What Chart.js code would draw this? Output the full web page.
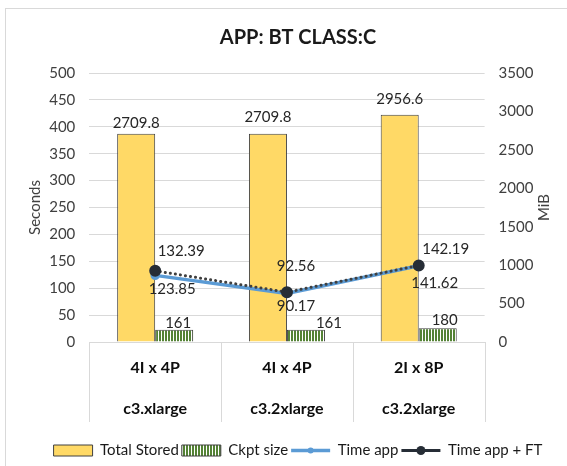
<!DOCTYPE html>
<html lang="en">
<head>
<meta charset="UTF-8" />
<title>APP: BT CLASS:C</title>
<script src="https://cdn.jsdelivr.net/npm/chart.js"></script>
<style>
  html, body { margin: 0; padding: 0; background: #fff; overflow: hidden; }
  .frame { position: absolute; left: 5px; top: 8px; width: 700px; height: 600px; border: 1px solid #d9d9d9; }
  .wrap { position: absolute; left: 0; top: 0; width: 576px; height: 466px; }
</style>
</head>
<body>
<div class="frame"></div>
<div class="wrap"><canvas id="chart" width="576" height="466"></canvas></div>
<script>
  // data
  const categories = [['4I x 4P', 'c3.xlarge'], ['4I x 4P', 'c3.2xlarge'], ['2I x 8P', 'c3.2xlarge']];
  const totalStored = [2709.8, 2709.8, 2956.6];
  const ckptSize = [161, 161, 180];
  const timeApp = [123.85, 90.17, 141.62];
  const timeAppFT = [132.39, 92.56, 142.19];
  const secondsTicks = [0, 50, 100, 150, 200, 250, 300, 350, 400, 450, 500];
  const mibTicks = [0, 500, 1000, 1500, 2000, 2500, 3000, 3500];

  // where each value label sits relative to its mark (dx, dy)
  const labelOffsets = [
    [[0, -11], [0, -17], [0, -16]],
    [[4, -6], [23, -6], [7, -8]],
    [[17, 14], [9, 13], [16, 17]],
    [[26, -20], [9, -26], [27, -16]]
  ];

  const FONT = 'Lato, sans-serif';
  Chart.defaults.font.family = FONT;

  function stripes(ctx) {
    const c = document.createElement('canvas');
    c.width = 3; c.height = 4;
    const g = c.getContext('2d');
    g.fillStyle = '#ffffff';
    g.fillRect(0, 0, 3, 4);
    g.fillStyle = '#548235';
    g.fillRect(0, 0, 2, 4);
    return ctx.createPattern(c, 'repeat');
  }

  const valueLabels = {
    id: 'valueLabels',
    afterDatasetsDraw(chart) {
      const ctx = chart.ctx;
      ctx.save();
      ctx.font = '15px ' + FONT;
      ctx.fillStyle = '#262626';
      ctx.textAlign = 'center';
      ctx.textBaseline = 'middle';
      chart.data.datasets.forEach((ds, i) => {
        chart.getDatasetMeta(i).data.forEach((el, j) => {
          const [dx, dy] = labelOffsets[i][j];
          ctx.fillText(String(ds.data[j]), el.x + dx, el.y + dy);
        });
      });
      ctx.restore();
    }
  };

  const extras = {
    id: 'extras',
    afterDraw(chart) {
      const ctx = chart.ctx;
      // category separators under the plot
      const x = chart.scales.x;
      const half = (x.getPixelForValue(1) - x.getPixelForValue(0)) / 2;
      ctx.save();
      ctx.strokeStyle = '#d9d9d9';
      ctx.lineWidth = 1;
      for (let i = 0; i <= categories.length; i++) {
        const px = Math.round(x.getPixelForValue(0) - half + i * half * 2) + 0.5;
        ctx.beginPath();
        ctx.moveTo(px, x.top);
        ctx.lineTo(px, x.top + 80);
        ctx.stroke();
      }
      ctx.restore();
      // dots on the line swatches of the legend
      const legend = chart.legend;
      legend.legendItems.forEach((item, k) => {
        const ds = chart.data.datasets[item.datasetIndex];
        if (ds.type !== 'line') return;
        const box = legend.legendHitBoxes[k];
        ctx.beginPath();
        ctx.arc(box.left + 39 / 2, box.top + box.height / 2, ds.pointRadius, 0, Math.PI * 2);
        ctx.fillStyle = ds.pointBackgroundColor;
        ctx.fill();
      });
      // secondary axis title, read bottom to top like the primary one
      const s = chart.scales.y1;
      ctx.save();
      ctx.translate(s.left + 59.4, (s.top + s.bottom) / 2);
      ctx.rotate(-Math.PI / 2);
      ctx.font = '15px ' + FONT;
      ctx.fillStyle = '#404040';
      ctx.textAlign = 'center';
      ctx.textBaseline = 'middle';
      ctx.fillText('MiB', 0, 0);
      ctx.restore();
    }
  };

  const ctx = document.getElementById('chart').getContext('2d');

  new Chart(ctx, {
    type: 'bar',
    data: {
      labels: categories,
      datasets: [
        {
          type: 'bar', label: 'Total Stored', data: totalStored, yAxisID: 'y1', order: 2,
          backgroundColor: '#FFD966', borderColor: '#404040', borderWidth: 1,
          categoryPercentage: 0.577, barPercentage: 1
        },
        {
          type: 'bar', label: 'Ckpt size', data: ckptSize, yAxisID: 'y1', order: 2,
          backgroundColor: stripes(ctx), borderColor: '#404040', borderWidth: 1,
          categoryPercentage: 0.577, barPercentage: 1
        },
        {
          type: 'line', label: 'Time app', data: timeApp, yAxisID: 'y', order: 1,
          borderColor: '#5B9BD5', borderWidth: 3.5, fill: false, tension: 0,
          pointRadius: 3, pointBackgroundColor: '#5B9BD5', pointBorderColor: '#5B9BD5'
        },
        {
          type: 'line', label: 'Time app + FT', data: timeAppFT, yAxisID: 'y', order: 0,
          borderColor: '#404040', borderWidth: 3, borderDash: [0.1, 5], borderCapStyle: 'round',
          fill: false, tension: 0,
          pointRadius: 4.5, pointBackgroundColor: '#262d36', pointBorderColor: '#262d36'
        }
      ]
    },
    options: {
      responsive: false,
      animation: false,
      layout: { padding: { left: 20, right: 0, top: 0, bottom: -2 } },
      plugins: {
        title: {
          display: true,
          text: 'APP: BT CLASS:C',
          color: '#1a1a1a',
          font: { family: FONT, size: 20, weight: 'bold' },
          padding: { top: 26, bottom: 23 }
        },
        legend: {
          position: 'bottom',
          labels: {
            usePointStyle: true,
            pointStyleWidth: 39,
            boxHeight: 11,
            padding: 3,
            color: '#1a1a1a',
            font: { family: FONT, size: 15 },
            sort: (a, b) => a.datasetIndex - b.datasetIndex,
            generateLabels(chart) {
              const items = Chart.defaults.plugins.legend.labels.generateLabels(chart);
              items.forEach(it => {
                it.pointStyle = chart.data.datasets[it.datasetIndex].type === 'line' ? 'line' : 'rect';
              });
              return items;
            }
          }
        },
        tooltip: { enabled: false }
      },
      scales: {
        x: {
          grid: { display: false },
          border: { display: true, color: '#d9d9d9' },
          ticks: {
            padding: -2.5, color: '#0d0d0d', maxRotation: 0, autoSkip: false,
            font: { family: FONT, size: 16, weight: 'bold', lineHeight: '41px' }
          },
          afterFit(scale) { scale.height = 98; }
        },
        y: {
          position: 'left',
          min: secondsTicks[0], max: secondsTicks[secondsTicks.length - 1],
          ticks: { stepSize: secondsTicks[1] - secondsTicks[0], padding: 14, color: '#404040', font: { size: 15 } },
          grid: { color: '#d9d9d9', drawTicks: false },
          border: { display: false },
          title: { display: true, text: 'Seconds', color: '#404040', font: { size: 15 }, padding: { top: 6, bottom: 0 } },
          afterFit(scale) { scale.width = 69.3; }
        },
        y1: {
          position: 'right',
          min: mibTicks[0], max: mibTicks[mibTicks.length - 1],
          ticks: {
            stepSize: mibTicks[1] - mibTicks[0], padding: 14, color: '#404040', font: { size: 15 },
            callback: v => String(v)
          },
          grid: { drawOnChartArea: false, drawTicks: false },
          border: { display: false },
          afterFit(scale) { scale.width = 91.4; }
        }
      }
    },
    plugins: [valueLabels, extras]
  });
</script>
</body>
</html>
